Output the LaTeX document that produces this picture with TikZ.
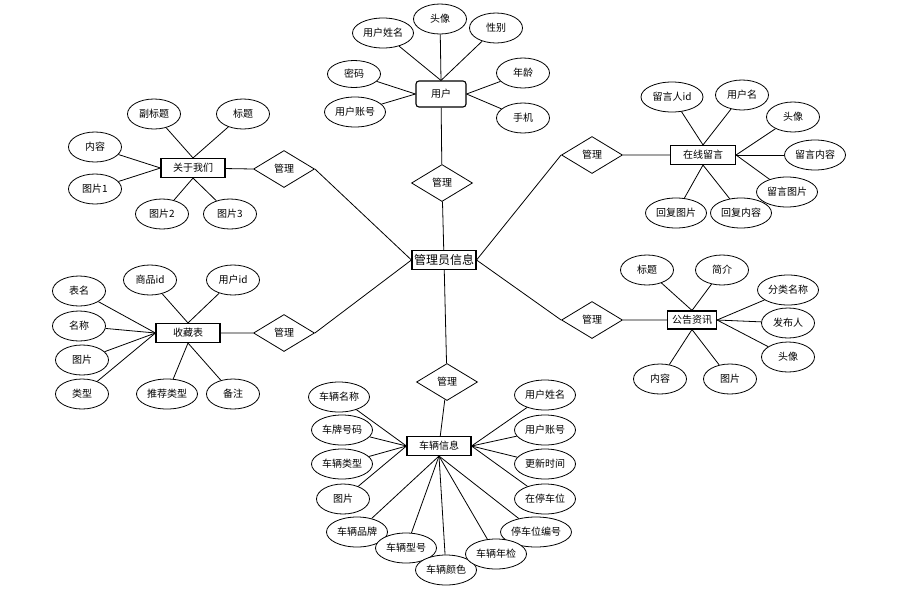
\documentclass[tikz,border=0pt]{standalone}
\usepackage{fontspec}
\setmainfont{Noto Sans CJK SC}
\usetikzlibrary{shapes.geometric}

\tikzset{
    attr/.style={draw, fill=white, ellipse, inner sep=0pt, line width=0.8pt,
        minimum width=53pt, minimum height=30pt, font=\fontsize{10}{11}\selectfont},
    wide/.style={minimum width=61pt},
    ent/.style={draw, fill=white, line width=1.1pt, inner sep=0pt,
        minimum width=64pt, minimum height=19pt, font=\fontsize{10}{11}\selectfont},
    rel/.style={draw, fill=white, diamond, aspect=1.65, inner sep=0pt, line width=0.8pt,
        minimum width=61pt, minimum height=37pt, font=\fontsize{10}{11}\selectfont},
    link/.style={line width=0.8pt},
}

\begin{document}
\begin{tikzpicture}[x=1pt, y=-1pt]
    \useasboundingbox (0,0) rectangle (899,595);

    % Centro
    \node[ent, font=\fontsize{12}{13}\selectfont] (admin) at (444,260) {管理员信息};

    % Usuario
    \node[ent, rounded corners=3pt, minimum width=50pt, minimum height=26pt] (user) at (441,94) {用户};
    \node[attr, wide] (uName)  at (383,33)  {用户姓名};
    \node[attr]       (uHead)  at (440,19)  {头像};
    \node[attr]       (uSex)   at (496,28)  {性别};
    \node[attr, minimum height=27pt] (uPwd) at (354,74) {密码};
    \node[attr, wide] (uAcct)  at (355,112) {用户账号};
    \node[attr]       (uAge)   at (523,73)  {年龄};
    \node[attr]       (uPhone) at (523,118) {手机};
    \node[rel]        (rUser)  at (442,183) {管理};

    % Sobre nosotros
    \node[ent] (about) at (193,168) {关于我们};
    \node[attr] (aSub)   at (154,114) {副标题};
    \node[attr] (aTitle) at (243,114) {标题};
    \node[attr] (aText)  at (95,147)  {内容};
    \node[attr] (aPic1)  at (95,189)  {图片1};
    \node[attr] (aPic2)  at (162,214) {图片2};
    \node[attr] (aPic3)  at (230,214) {图片3};
    \node[rel]  (rAbout) at (284,169) {管理};

    % Mensajes
    \node[ent, minimum width=65pt] (msg) at (703,155) {在线留言};
    \node[attr, minimum width=62pt] (mUid)  at (672,97)  {留言人id};
    \node[attr]       (mUser)  at (742,95)  {用户名};
    \node[attr]       (mHead)  at (793,117) {头像};
    \node[attr, wide] (mText)  at (815,155) {留言内容};
    \node[attr, wide] (mPic)   at (787,192) {留言图片};
    \node[attr, wide] (mRePic) at (676,213) {回复图片};
    \node[attr, wide] (mReTxt) at (741,213) {回复内容};
    \node[rel]        (rMsg)   at (592,155) {管理};

    % Favoritos
    \node[ent] (fav) at (188,333) {收藏表};
    \node[attr]       (fTab)  at (79,291)  {表名};
    \node[attr]       (fName) at (79,326)  {名称};
    \node[attr]       (fPic)  at (82,360)  {图片};
    \node[attr]       (fType) at (82,394)  {类型};
    \node[attr]       (fGid)  at (150,280) {商品id};
    \node[attr]       (fUid)  at (233,280) {用户id};
    \node[attr, wide] (fRec)  at (167,394) {推荐类型};
    \node[attr]       (fNote) at (233,394) {备注};
    \node[rel]        (rFav)  at (284,333) {管理};

    % Avisos
    \node[ent, minimum width=49pt, minimum height=18pt] (news) at (692,320) {公告资讯};
    \node[attr]       (nTitle) at (647,270) {标题};
    \node[attr]       (nIntro) at (722,270) {简介};
    \node[attr, wide] (nCat)   at (788,290) {分类名称};
    \node[attr]       (nPub)   at (788,323) {发布人};
    \node[attr]       (nHead)  at (788,357) {头像};
    \node[attr]       (nText)  at (660,379) {内容};
    \node[attr]       (nPic)   at (730,379) {图片};
    \node[rel]        (rNews)  at (592,320) {管理};

    % Vehiculos
    \node[ent] (car) at (439,446) {车辆信息};
    \node[rel] (rCar) at (447,382) {管理};
    \node[attr, wide] (cName)  at (339,397) {车辆名称};
    \node[attr, wide] (cPlate) at (342,430) {车牌号码};
    \node[attr, wide] (cType)  at (342,464) {车辆类型};
    \node[attr]       (cPic)   at (343,499) {图片};
    \node[attr, wide] (cBrand) at (357,532) {车辆品牌};
    \node[attr, wide] (cModel) at (406,548) {车辆型号};
    \node[attr, wide] (cColor) at (446,570) {车辆颜色};
    \node[attr, minimum width=71pt] (cSlot) at (536,532) {停车位编号};
    \node[attr, wide] (cCheck) at (496,554) {车辆年检};
    \node[attr, wide] (cUName) at (545,395) {用户姓名};
    \node[attr, wide] (cUAcct) at (545,430) {用户账号};
    \node[attr, wide] (cTime)  at (545,464) {更新时间};
    \node[attr, wide] (cPark)  at (545,499) {在停车位};

    % Conexiones
    \foreach \n in {uName,uHead,uSex}  { \draw[link] (\n) -- (user.north); }
    \foreach \n in {uPwd,uAcct}        { \draw[link] (\n) -- (user.west); }
    \foreach \n in {uAge,uPhone}       { \draw[link] (\n) -- (user.east); }
    \draw[link] (user) -- (rUser) -- (admin);

    \foreach \n in {aSub,aTitle}  { \draw[link] (\n) -- (about.north); }
    \foreach \n in {aText,aPic1}  { \draw[link] (\n) -- (about.west); }
    \foreach \n in {aPic2,aPic3}  { \draw[link] (\n) -- (about.south); }
    \draw[link] (about) -- (rAbout.west) (rAbout.east) -- (admin.west);

    \foreach \n in {mUid,mUser}       { \draw[link] (\n) -- (msg.north); }
    \foreach \n in {mHead,mText,mPic} { \draw[link] (\n) -- (msg.east); }
    \foreach \n in {mRePic,mReTxt}    { \draw[link] (\n) -- (msg.south); }
    \draw[link] (msg) -- (rMsg.east) (rMsg.west) -- (admin.east);

    \foreach \n in {fGid,fUid}             { \draw[link] (\n) -- (fav.north); }
    \foreach \n in {fTab,fName,fPic,fType} { \draw[link] (\n) -- (fav.west); }
    \foreach \n in {fRec,fNote}            { \draw[link] (\n) -- (fav.south); }
    \draw[link] (fav) -- (rFav.west) (rFav.east) -- (admin.west);

    \foreach \n in {nTitle,nIntro}    { \draw[link] (\n) -- (news.north); }
    \foreach \n in {nCat,nPub,nHead}  { \draw[link] (\n) -- (news.east); }
    \foreach \n in {nText,nPic}       { \draw[link] (\n) -- (news.south); }
    \draw[link] (news) -- (rNews.east) (rNews.west) -- (admin.east);

    \foreach \n in {cName,cPlate,cType,cPic}          { \draw[link] (\n) -- (car.west); }
    \foreach \n in {cBrand,cModel,cColor,cCheck,cSlot} { \draw[link] (\n) -- (car.south); }
    \foreach \n in {cUName,cUAcct,cTime,cPark}        { \draw[link] (\n) -- (car.east); }
    \draw[link] (admin) -- (rCar) -- (car);
\end{tikzpicture}
\end{document}
